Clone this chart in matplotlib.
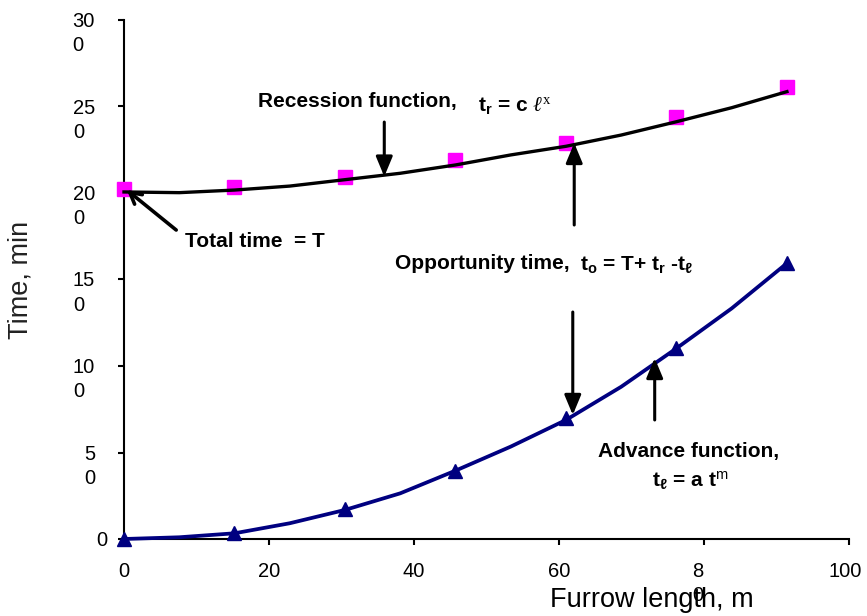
import matplotlib
matplotlib.use('Agg')
import matplotlib.pyplot as plt

plt.rcParams['font.family'] = ['Liberation Sans', 'DejaVu Sans']
plt.rcParams['mathtext.fontset'] = 'custom'
plt.rcParams['mathtext.rm'] = 'Liberation Serif'
plt.rcParams['mathtext.it'] = 'Liberation Serif:italic'
plt.rcParams['mathtext.bf'] = 'Liberation Sans:bold'
plt.rcParams['mathtext.sf'] = 'Liberation Sans'

# ---------------- data ----------------
station_m = [0, 15.24, 30.48, 45.72, 60.96, 76.2, 91.44]
recession_obs = [202.3, 203.6, 209.4, 218.9, 229.1, 244.1, 261.1]
advance_obs = [0, 3.5, 17.3, 39.3, 70.0, 110.4, 159.5]

curve_m = [0, 7.62, 15.24, 22.86, 30.48, 38.10, 45.72, 53.34, 60.96,
           68.58, 76.20, 83.82, 91.44]
recession_fit = [200.6, 200.2, 201.7, 204.0, 207.7, 211.4, 216.2, 222.0,
                 227.0, 233.5, 241.2, 249.3, 258.6]
advance_fit = [0, 1.0, 3.3, 9.1, 16.8, 26.4, 39.5, 53.4, 68.8, 88.0,
               110.2, 133.3, 159.4]

ytick_vals = [0, 50, 100, 150, 200, 250, 300]
ytick_labels = ['0', '5\n0', '10\n0', '15\n0', '20\n0', '25\n0', '30\n0']
xtick_vals = [0, 20, 40, 60, 80, 100]
xtick_labels = ['0', '20', '40', '60', '8\n0', '100']

x_label = 'Furrow length, m'
y_label = 'Time, min'

# ---------------- figure ----------------
W, H = 867, 616
fig = plt.figure(figsize=(W / 100, H / 100), dpi=100)
ax = fig.add_axes([124 / W, 1 - 539 / H, (849 - 124) / W, (539 - 20) / H])
ax.set_xlim(0, 100)
ax.set_ylim(0, 300)
for s in ('top', 'right'):
    ax.spines[s].set_visible(False)
for s in ('left', 'bottom'):
    ax.spines[s].set_linewidth(1.5)
ax.set_xticks(xtick_vals)
ax.set_yticks(ytick_vals)
ax.tick_params(direction='out', length=4.5, width=1.5,
               labelleft=False, labelbottom=False)

PX = 0.72  # points per pixel
tick_fs = 14.5
LS = 1.35

# y tick labels (first line centred on the tick)
for v, lab in zip(ytick_vals, ytick_labels):
    dx = -29 if '\n' in lab else -17
    ax.annotate(lab, xy=(0, v), xycoords=('axes fraction', 'data'),
                xytext=(dx * PX, 8 * PX), textcoords='offset points',
                ha='right', va='top', multialignment='left',
                fontsize=tick_fs, linespacing=LS)

# x tick labels
xshift = {'8\n0': -6, '100': -4}
for v, lab in zip(xtick_vals, xtick_labels):
    ax.annotate(lab, xy=(v, 0), xycoords=('data', 'axes fraction'),
                xytext=(xshift.get(lab, 0) * PX, -23 * PX),
                textcoords='offset points', ha='center', va='top',
                multialignment='left', fontsize=tick_fs, linespacing=LS,
                annotation_clip=False)

fig.text(652 / W, 1 - 600 / H, x_label, ha='center', va='center', fontsize=19.5)
fig.text(21 / W, 1 - 280 / H, y_label, ha='center', va='center',
         rotation=90, fontsize=19.5, color='#222222')

# ---------------- series ----------------
ax.plot(station_m, recession_obs, ls='none', marker='s', ms=10,
        color='#FF00FF', mec='#FF00FF', clip_on=False, zorder=3)
ax.plot(curve_m, recession_fit, color='black', lw=2.4, clip_on=False, zorder=4)
ax.plot(curve_m, advance_fit, color='#000080', lw=2.7, clip_on=False, zorder=3)
ax.plot(station_m, advance_obs, ls='none', marker='^', ms=9.5,
        color='#000080', clip_on=False, zorder=4)

# ---------------- annotations ----------------
solid = dict(arrowstyle='-|>,head_length=0.6,head_width=0.25', lw=2.2,
             color='black', shrinkA=0, shrinkB=0, mutation_scale=20)
openh = dict(arrowstyle='->,head_length=0.4,head_width=0.22', lw=2.6,
             color='black', shrinkA=0, shrinkB=0, mutation_scale=20)

ax.annotate('', xy=(35.9, 209.5), xytext=(35.9, 241), arrowprops=solid)
ax.annotate('', xy=(62.1, 228.9), xytext=(62.1, 181.5), arrowprops=solid)
ax.annotate('', xy=(0.4, 201.7), xytext=(7.2, 178.6), arrowprops=openh)
ax.annotate('', xy=(61.9, 71.7), xytext=(61.9, 131.2), arrowprops=solid)
ax.annotate('', xy=(73.2, 104.6), xytext=(73.2, 68.8), arrowprops=solid)

fs = 15
ax.text(18.5, 249.9, 'Recession function,', fontsize=fs, fontweight='bold',
        va='baseline', ha='left')
ax.text(48.8, 247.0, r'$\mathbf{t_r}$ = c $\ell^{\mathrm{x}}$', fontsize=fs,
        fontweight='bold', va='baseline', ha='left')
ax.text(8.4, 169.0, 'Total time  = T', fontsize=fs, fontweight='bold',
        va='baseline', ha='left')
ax.text(37.4, 155.9, 'Opportunity time,', fontsize=fs, fontweight='bold',
        va='baseline', ha='left')
ax.text(62.9, 155.9, r'$\mathbf{t_o}$ = T+ $\mathbf{t_r}$ -$\mathbf{t_\ell}$',
        fontsize=fs, fontweight='bold', va='baseline', ha='left')
ax.text(65.4, 47.6, 'Advance function,', fontsize=fs, fontweight='bold',
        va='baseline', ha='left')
ax.text(72.8, 31.2, r'$\mathbf{t_\ell}$ = a t$^{\mathsf{m}}$', fontsize=fs,
        fontweight='bold', va='baseline', ha='left')

fig.savefig('out.png', dpi=100)
